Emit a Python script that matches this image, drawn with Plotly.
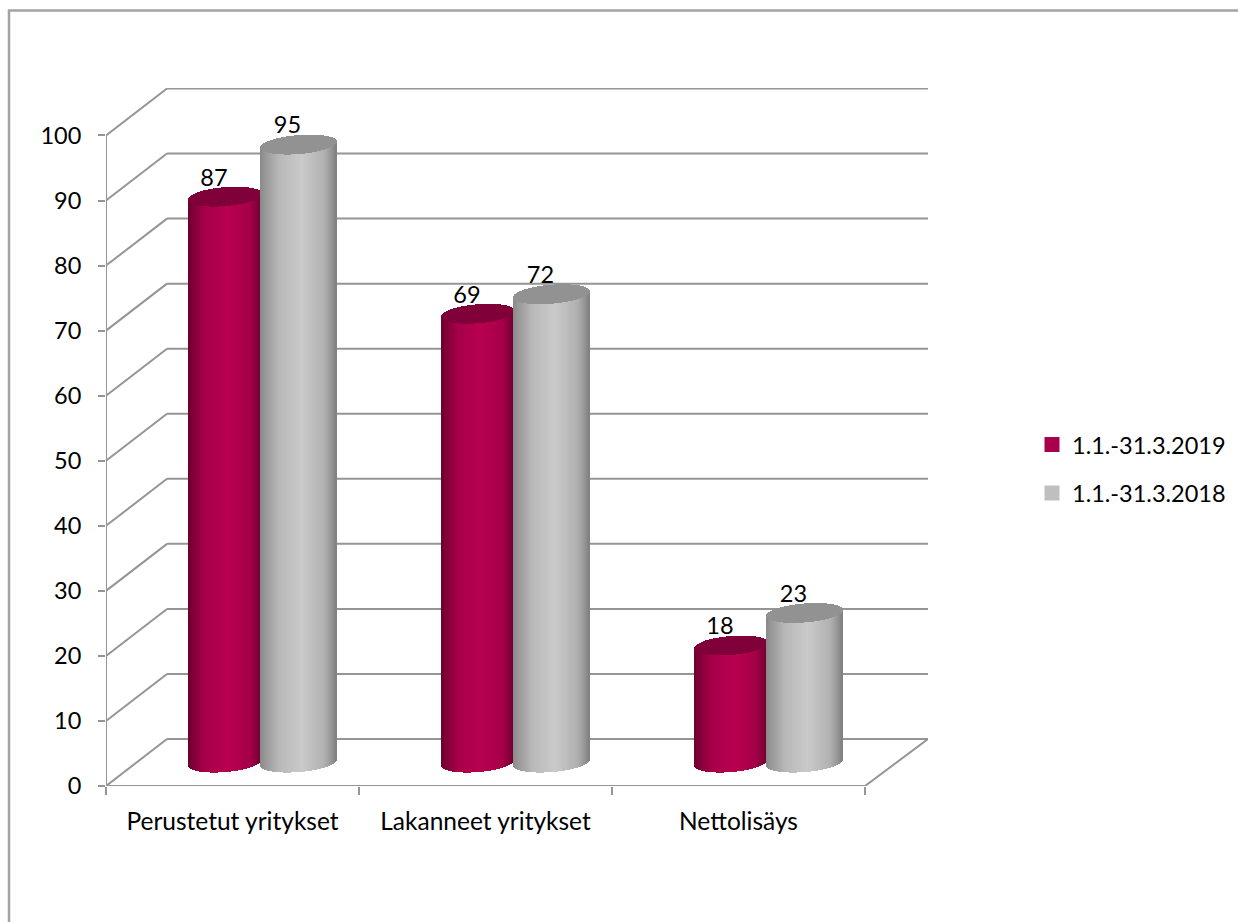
import numpy as np
import plotly.graph_objects as go

# ---- data ----
categories = ["Perustetut yritykset", "Lakanneet yritykset", "Nettolisäys"]
series_names = ["1.1.-31.3.2019", "1.1.-31.3.2018"]
values_2019 = [87, 69, 18]
values_2018 = [95, 72, 23]
y_ticks = [0, 10, 20, 30, 40, 50, 60, 70, 80, 90, 100]

# ---- styles / geometry ----
FONT = "Lato"
FS = 23.5
GRID = "#959595"
PX_X = 253.0      # pixels per category
PX_Y = 6.51       # pixels per value unit
DEPTH_X = 61 / PX_X
DEPTH_Y = 47 / PX_Y
MID_Y = 3.6       # cylinder base centre (value units)
MID_X = 29 / PX_X
ELL_H = 9.5 / PX_Y
ELL_S = 3 / PX_Y
N = 76
X_END = -0.5 + (928 - 106) / PX_X

STOPS = [0, .06, .25, .55, .85, .95, 1]
RED = [(108, 0, 46), (125, 0, 54), (168, 0, 74), (184, 0, 80), (165, 0, 72), (130, 0, 56), (110, 0, 48)]
GREY = [(136, 136, 136), (150, 150, 150), (184, 184, 184), (202, 202, 202), (176, 176, 176), (146, 146, 146), (128, 128, 128)]
CAP = {"r": "#80003a", "g": "#929292"}
LEG = ["#a8004a", "#bfbfbf"]


def shade(stops, t):
    c = [int(round(np.interp(t, STOPS, [s[i] for s in stops]))) for i in range(3)]
    return "rgb(%d,%d,%d)" % tuple(c)


def cylinder_trace(values, off_px, width_px, stops, cap):
    wd = width_px / PX_X
    xs, tops, bases, cols = [], [], [], []
    ct, cb = [], []
    for i, v in enumerate(values):
        centre = i + MID_X + off_px / PX_X
        for k in range(N):
            t = (k + 0.5) / N
            u = 2 * t - 1
            half = ELL_H * np.sqrt(1 - u * u)
            lo = MID_Y + ELL_S * u - half
            top_c = MID_Y + v + ELL_S * u
            xs.append(centre + (t - 0.5) * wd)
            bases.append(lo)
            tops.append(top_c - lo)
            cols.append(shade(stops, t))
            cb.append(top_c - half)
            ct.append(2 * half)
    w = wd / N * 1.25
    common = dict(width=w, showlegend=False, hoverinfo="skip", xaxis="x", yaxis="y")
    body = go.Bar(x=xs, y=tops, base=bases, marker=dict(color=cols, line=dict(width=0)), **common)
    top = go.Bar(x=xs, y=ct, base=cb, marker=dict(color=cap, line=dict(width=0)), **common)
    return [body, top]


fig = go.Figure()
OFF = {"r": -36.5, "g": 37}
fig.add_traces(cylinder_trace(values_2019, OFF["r"], 73, RED, CAP["r"]))
fig.add_traces(cylinder_trace(values_2018, OFF["g"], 76, GREY, CAP["g"]))

# data labels
for key, vals in (("r", values_2019), ("g", values_2018)):
    fig.add_trace(go.Scatter(
        x=[i + MID_X + (OFF[key] - 11) / PX_X for i in range(3)],
        y=[v + MID_Y + 17 / PX_Y for v in vals],
        text=[str(v) for v in vals], mode="text", textposition="middle center",
        textfont=dict(family=FONT, size=FS, color="#000000"),
        cliponaxis=False, showlegend=False, hoverinfo="skip"))

# legend entries
for name, col in zip(series_names, LEG):
    fig.add_trace(go.Bar(x=[None], y=[None], name=name, legendgroup=name,
                         marker=dict(color=col, line=dict(color=col, width=3))))

# walls
shapes = []
def seg(x0, y0, x1, y1):
    shapes.append(dict(type="line", xref="x", yref="y", x0=x0, y0=y0, x1=x1, y1=y1,
                       layer="below", line=dict(color=GRID, width=2)))

for t in y_ticks:
    seg(-0.5, t, -0.5 + DEPTH_X, t + DEPTH_Y)
    seg(-0.5 + DEPTH_X, t + DEPTH_Y, X_END, t + DEPTH_Y)
seg(-0.5, 0, -0.5, y_ticks[-1])
seg(-0.5, 0, 2.5, 0)
seg(2.5, 0, X_END, DEPTH_Y)

# outer frame, page-pixel based (runs off the right and bottom of the page)
W, H = 1250, 922
L, T, R, B = 106, 87.5, 322, 136
pw, ph = W - L - R, H - T - B
def px(xp): return (xp - L) / pw
def py(yp): return 1 - (yp - T) / ph
shapes.append(dict(type="rect", xref="paper", yref="paper", x0=px(9), x1=px(1300), y0=py(10), y1=py(1000),
                   layer="below", line=dict(color="#a3a3a3", width=2.5)))

fig.update_layout(
    width=W, height=H, margin=dict(l=L, r=R, t=T, b=B, pad=0),
    paper_bgcolor="white", plot_bgcolor="white",
    barmode="overlay", bargap=0, shapes=shapes,
    font=dict(family=FONT, size=FS, color="#000000"),
    xaxis=dict(range=[-0.5, X_END], tickmode="array", tickvals=[0, 1, 2],
               ticktext=categories, ticks="", showgrid=False, zeroline=False, showline=False,
               ticklabelstandoff=18, tickfont=dict(family=FONT, size=24.5, color="#000000"),
               minor=dict(ticks="outside", ticklen=8, tickwidth=2, tickcolor=GRID, tick0=0.5, dtick=1, showgrid=False)),
    yaxis=dict(range=[0, 698.5 / PX_Y], tickmode="array", tickvals=y_ticks,
               ticks="outside", ticklen=7, tickwidth=2, tickcolor=GRID,
               showgrid=False, zeroline=False, showline=False, ticklabelstandoff=12,
               tickfont=dict(family=FONT, size=FS, color="#000000")),
    legend=dict(x=px(1032), xanchor="left", y=py(469), yanchor="middle",
                tracegroupgap=15, font=dict(family=FONT, size=FS, color="#000000"),
                bgcolor="rgba(0,0,0,0)", itemclick=False, itemdoubleclick=False),
)

fig.write_html("out.html", config={"displayModeBar": False},
               post_script="document.documentElement.style.overflow='hidden';document.body.style.margin='0';")
